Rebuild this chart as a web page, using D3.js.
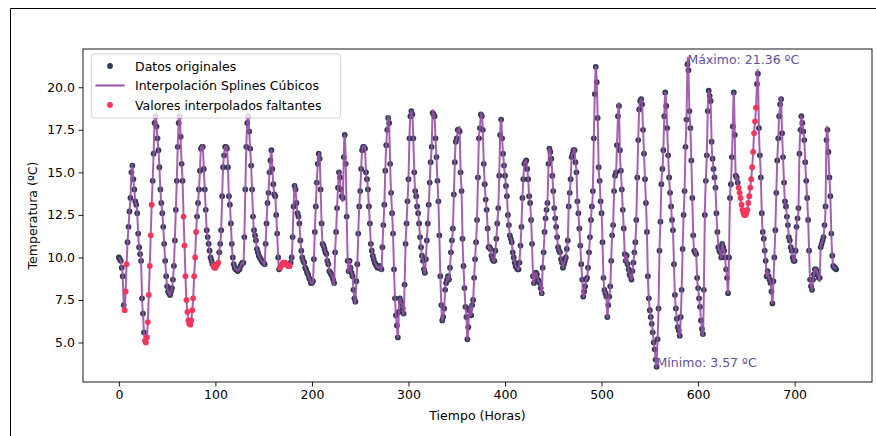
<!DOCTYPE html>
<html>
<head>
<meta charset="utf-8">
<script src="https://cdn.jsdelivr.net/npm/d3@7"></script>
<style>
  body { margin: 0; background: #fff; }
  svg { display: block; font-family: "DejaVu Sans", sans-serif; }
</style>
</head>
<body>
<svg id="chart" width="876" height="436"></svg>
<script>
// hourly temperature (ºC), one row per day
var temperaturas = [
  10.0, 9.9, 9.8, 9.4, 8.9, 7.2, 6.9, 8.0, 9.6, 10.9, 11.8, 12.7, 13.5, 15.0, 15.4, 14.6, 14.0, 13.3, 13.1, 12.6, 11.4, 10.6, 10.2, 9.8,
  7.6, 6.7, 5.6, 5.1, 5.0, 5.3, 6.2, 7.8, 9.5, 11.3, 13.1, 14.5, 16.1, 17.9, 18.3, 17.7, 17.0, 16.3, 15.3, 14.0, 13.2, 12.6, 11.8, 10.8,
  9.8, 8.9, 8.3, 8.0, 7.9, 7.8, 8.0, 8.2, 8.7, 9.5, 11.0, 12.8, 14.5, 16.5, 17.9, 18.3, 17.1, 15.5, 14.5, 12.4, 10.7, 8.9, 7.5, 6.8,
  6.3, 6.1, 6.05, 6.3, 6.9, 7.6, 8.9, 10.0, 11.5, 12.4, 13.2, 14.0, 15.1, 16.4, 16.5, 16.5, 15.2, 14.0, 12.8, 11.6, 11.2, 10.8, 10.4, 10.0,
  9.8, 9.6, 9.5, 9.4, 9.4, 9.5, 9.6, 9.7, 10.3, 10.8, 11.6, 13.6, 15.3, 16.0, 16.5, 16.5, 16.4, 15.3, 13.6, 13.1, 12.0, 10.8, 10.0, 9.6,
  9.4, 9.3, 9.3, 9.2, 9.3, 9.3, 9.5, 9.6, 9.7, 9.7, 11.2, 14.0, 16.5, 17.9, 18.3, 17.4, 16.4, 15.4, 14.0, 12.4, 11.6, 11.3, 11.0, 10.5,
  10.3, 10.1, 10.0, 9.9, 9.8, 9.7, 9.7, 9.6, 10.8, 12.0, 13.2, 13.8, 15.0, 15.7, 16.3, 15.2, 14.3, 13.7, 13.6, 12.5, 11.4, 10.0, 9.3, 9.4,
  9.5, 9.6, 9.7, 9.7, 9.7, 9.6, 9.6, 9.5, 9.5, 9.5, 9.7, 10.0, 11.2, 13.0, 14.2, 14.0, 13.2, 12.6, 12.4, 12.0, 11.0, 10.4, 10.0, 9.8,
  9.7, 9.4, 9.3, 9.1, 9.0, 8.8, 8.7, 8.5, 8.5, 8.6, 9.9, 11.5, 13.0, 14.4, 15.5, 16.1, 15.8, 14.0, 12.0, 10.8, 10.7, 10.5, 10.3, 10.2,
  9.8, 9.6, 9.2, 9.1, 9.0, 8.9, 8.7, 8.5, 10.3, 11.5, 12.9, 14.1, 15.0, 14.7, 14.0, 13.6, 13.5, 15.9, 17.2, 15.5, 12.4, 9.8, 9.2, 9.8,
  9.4, 9.1, 8.9, 8.1, 7.6, 7.4, 8.6, 9.6, 11.4, 13.0, 13.9, 15.2, 16.3, 16.5, 16.5, 16.4, 15.0, 14.6, 14.0, 13.0, 12.0, 10.8, 10.4, 10.1,
  9.9, 9.7, 9.6, 9.5, 9.4, 9.4, 9.5, 9.4, 9.3, 10.6, 11.9, 13.1, 15.1, 16.6, 17.5, 18.2, 17.9, 15.5, 13.8, 12.6, 11.4, 9.3, 7.6, 6.6,
  6.0, 5.3, 6.8, 7.6, 7.4, 7.3, 7.0, 6.7, 8.4, 10.8, 12.0, 13.3, 14.6, 17.0, 18.3, 18.6, 18.4, 17.0, 15.0, 13.9, 13.6, 13.0, 12.6, 12.0,
  11.2, 10.6, 10.1, 9.8, 9.3, 9.1, 9.9, 11.0, 12.0, 13.1, 14.4, 15.6, 16.5, 18.5, 18.4, 18.3, 17.0, 15.9, 14.5, 13.3, 11.3, 8.9, 7.2, 6.3,
  6.5, 7.0, 8.1, 8.5, 8.7, 8.9, 8.7, 9.4, 10.3, 11.0, 11.7, 13.7, 15.6, 16.8, 17.0, 17.5, 17.5, 17.4, 15.0, 13.9, 11.1, 9.5, 8.2, 7.1,
  6.5, 5.2, 5.9, 6.9, 7.0, 6.6, 7.2, 7.5, 8.8, 9.9, 10.9, 12.2, 14.7, 17.0, 17.6, 18.4, 18.3, 17.5, 15.5, 14.3, 13.4, 12.8, 11.7, 10.6,
  10.6, 10.5, 10.1, 9.9, 9.8, 9.8, 10.4, 11.1, 12.0, 12.9, 14.8, 17.2, 18.1, 17.0, 16.1, 15.4, 14.8, 14.2, 13.6, 12.5, 11.9, 11.3, 11.1, 10.9,
  10.3, 10.0, 9.7, 9.5, 9.4, 9.3, 9.3, 9.7, 10.7, 11.8, 13.5, 14.6, 15.5, 15.6, 15.7, 15.2, 14.6, 13.6, 13.2, 12.2, 10.8, 8.9, 8.5, 9.0,
  9.1, 9.0, 8.7, 8.6, 8.5, 8.2, 7.9, 9.4, 10.3, 11.5, 12.3, 12.8, 13.2, 15.5, 16.4, 16.2, 15.8, 14.8, 13.9, 12.9, 12.3, 11.8, 11.2, 10.6,
  10.4, 10.3, 9.9, 9.7, 9.4, 9.6, 9.8, 10.0, 10.5, 11.0, 13.0, 13.8, 14.6, 15.9, 16.1, 16.3, 16.3, 15.6, 15.0, 13.3, 12.6, 11.7, 10.7, 9.6,
  8.7, 7.7, 8.0, 8.3, 8.7, 8.8, 9.4, 10.3, 11.2, 12.2, 13.0, 13.9, 17.0, 19.6, 21.2, 20.3, 18.2, 15.3, 14.5, 13.3, 12.6, 10.9, 8.8, 8.1,
  7.9, 7.7, 6.5, 7.2, 7.7, 8.3, 9.8, 11.3, 11.9, 13.9, 14.8, 15.0, 16.6, 18.3, 18.9, 16.3, 15.1, 14.0, 12.8, 11.7, 10.2, 9.8, 10.1, 9.6,
  9.3, 9.0, 8.9, 8.7, 9.2, 9.7, 10.3, 10.9, 12.2, 14.7, 16.9, 18.7, 19.2, 19.3, 19.0, 17.5, 16.1, 14.6, 13.2, 11.5, 8.9, 7.6, 6.9, 6.5,
  6.1, 5.6, 5.0, 4.6, 4.0, 3.57, 5.2, 7.0, 10.4, 12.1, 14.3, 15.2, 16.3, 18.3, 19.7, 18.9, 17.6, 16.0, 14.7, 13.8, 13.0, 12.2, 11.6, 9.6,
  7.8, 7.0, 6.4, 5.9, 5.7, 5.4, 6.5, 8.1, 10.5, 12.5, 13.9, 16.5, 18.1, 21.36, 21.0, 18.6, 17.6, 15.7, 13.5, 11.3, 10.4, 10.3, 10.2, 8.8,
  8.2, 7.6, 7.1, 6.3, 5.8, 5.5, 8.1, 12.5, 14.5, 16.0, 18.6, 19.8, 19.5, 19.2, 16.8, 15.8, 15.2, 14.7, 14.1, 12.6, 11.5, 10.6, 10.4, 10.3,
  10.0, 10.8, 10.6, 10.4, 10.0, 9.3, 8.8, 7.9, 10.0, 13.5, 14.3, 15.9, 17.7, 19.7, 17.2, 14.8, 14.7, 14.4, 14.1, 13.8, 13.5, 13.1, 12.8, 12.6,
  12.5, 12.5, 12.6, 12.8, 13.2, 13.6, 14.1, 14.6, 15.3, 16.2, 17.3, 18.0, 18.8, 20.2, 20.8, 17.6, 16.0, 14.7, 12.6, 11.5, 11.1, 10.4, 9.8, 8.9,
  9.2, 8.9, 8.7, 8.5, 8.0, 7.3, 8.6, 10.0, 11.6, 13.8, 15.7, 17.0, 18.3, 19.0, 19.3, 17.3, 15.9, 14.4, 13.3, 13.0, 12.4, 11.9, 11.2, 11.0,
  10.6, 10.4, 10.0, 9.8, 9.8, 10.4, 11.8, 12.3, 12.9, 16.1, 17.5, 18.3, 17.9, 17.4, 16.9, 15.6, 14.5, 13.5, 12.2, 10.4, 8.7, 8.3, 8.1, 8.7,
  9.0, 9.3, 9.3, 9.2, 9.0, 8.8, 8.8, 10.6, 10.8, 11.0, 11.2, 11.9, 13.0, 16.9, 17.5, 16.2, 14.7, 13.6, 11.4, 10.1, 9.5, 9.4, 9.4, 9.3
];

// hours whose value was missing and filled by the spline
var faltantes = [
  6, 7, 8,
  27, 28, 29, 30, 31, 32, 33, 34,
  67, 68, 69, 70, 71, 72, 73, 74, 75, 76, 77, 78, 79, 80,
  98, 99, 100, 101, 102, 103,
  167, 168, 169, 170, 171, 172, 173, 174, 175, 176, 177,
  642, 643, 644, 645, 646, 647, 648, 649, 650, 651, 652, 653, 654, 655, 656, 657, 658, 659, 660
];

var ticksX = [0, 100, 200, 300, 400, 500, 600, 700];
var ticksY = [5.0, 7.5, 10.0, 12.5, 15.0, 17.5, 20.0];

var leyenda = ["Datos originales", "Interpolación Splines Cúbicos", "Valores interpolados faltantes"];

var colorPuntos = "#2c3e50",
    colorLinea = "#9b4fa8",
    colorFaltantes = "#f5365c",
    colorNotas = "#5e50a0";

var W = 876, H = 436,
    margin = {top: 49, right: 4, bottom: 54, left: 83},
    w = W - margin.left - margin.right,
    h = H - margin.top - margin.bottom;

var datos = temperaturas.map(function (t, i) {
    return {hora: i, temp: t, falta: faltantes.includes(i)};
});

var n = datos.length - 1;
var tMin = d3.min(temperaturas), tMax = d3.max(temperaturas);
var padX = n * 0.05, padY = (tMax - tMin) * 0.05;

var x = d3.scaleLinear().domain([-padX, n + padX]).range([0, w]);
var y = d3.scaleLinear().domain([tMin - padY, tMax + padY]).range([h, 0]);

var svg = d3.select("#chart");
svg.append("rect").attr("width", W).attr("height", H).attr("fill", "#fff");

// border of the output cell (top and left edges are visible)
svg.append("path")
    .attr("d", "M10.5,436V8.5H876")
    .attr("fill", "none").attr("stroke", "#000").attr("stroke-width", 1);

var g = svg.append("g").attr("transform", "translate(" + margin.left + "," + margin.top + ")");

g.append("clipPath").attr("id", "clip")
  .append("rect").attr("width", w).attr("height", h);

// axes
var ax = g.append("g")
    .attr("transform", "translate(0," + h + ")")
    .call(d3.axisBottom(x).tickValues(ticksX).tickFormat(d3.format("d")).tickSizeOuter(0).tickSize(4.5).tickPadding(3.5));
var ay = g.append("g")
    .call(d3.axisLeft(y).tickValues(ticksY).tickFormat(d3.format(".1f")).tickSizeOuter(0).tickSize(4.5).tickPadding(3.5));

[ax, ay].forEach(function (a) {
    a.select(".domain").remove();
    a.selectAll("line").attr("stroke", "#000").attr("stroke-width", 0.9);
    a.selectAll("text").attr("fill", "#000").style("font-size", "12.5px").style("font-family", "DejaVu Sans");
});

// frame
g.append("rect")
    .attr("width", w).attr("height", h)
    .attr("fill", "none").attr("stroke", "#000").attr("stroke-width", 0.9);

var plot = g.append("g").attr("clip-path", "url(#clip)");

// original points
plot.append("g").selectAll("circle")
    .data(datos.filter(function (d) { return !d.falta; }))
    .join("circle")
    .attr("cx", function (d) { return x(d.hora); })
    .attr("cy", function (d) { return y(d.temp); })
    .attr("r", 2.9)
    .attr("fill", colorPuntos);

// spline
var line = d3.line()
    .x(function (d) { return x(d.hora); })
    .y(function (d) { return y(d.temp); })
    .curve(d3.curveNatural);

plot.append("path")
    .datum(datos)
    .attr("d", line)
    .attr("fill", "none")
    .attr("stroke", colorLinea)
    .attr("stroke-width", 2)
    .attr("stroke-opacity", 0.9);

// interpolated missing values
plot.append("g").selectAll("circle")
    .data(datos.filter(function (d) { return d.falta; }))
    .join("circle")
    .attr("cx", function (d) { return x(d.hora); })
    .attr("cy", function (d) { return y(d.temp); })
    .attr("r", 2.9)
    .attr("fill", colorFaltantes);

// max / min notes
var iMax = d3.maxIndex(temperaturas), iMin = d3.minIndex(temperaturas);
g.append("text")
    .attr("x", x(iMax)).attr("y", y(tMax))
    .attr("fill", colorNotas).style("font-size", "12.5px")
    .text("Máximo: " + tMax.toFixed(2) + " ºC");
g.append("text")
    .attr("x", x(iMin)).attr("y", y(tMin))
    .attr("fill", colorNotas).style("font-size", "12.5px")
    .text("Mínimo: " + tMin.toFixed(2) + " ºC");

// axis labels
g.append("text")
    .attr("x", w / 2).attr("y", h + 38)
    .attr("text-anchor", "middle").style("font-size", "12.5px")
    .text("Tiempo (Horas)");
g.append("text")
    .attr("transform", "translate(" + (-46) + "," + (h / 2) + ") rotate(-90)")
    .attr("text-anchor", "middle").style("font-size", "12.5px")
    .text("Temperatura (ºC)");

// legend
var lg = g.append("g").attr("transform", "translate(8.5,5)");
lg.append("rect")
    .attr("width", 249).attr("height", 64).attr("rx", 3)
    .attr("fill", "#fff").attr("fill-opacity", 0.8)
    .attr("stroke", "#d0d0d0").attr("stroke-width", 0.9);

leyenda.forEach(function (txt, i) {
    var cy = 12 + i * 19.5;
    if (i === 1) {
        lg.append("line")
            .attr("x1", 4).attr("x2", 33).attr("y1", cy).attr("y2", cy)
            .attr("stroke", colorLinea).attr("stroke-width", 2);
    } else {
        lg.append("circle")
            .attr("cx", 18.5).attr("cy", cy).attr("r", 2.9)
            .attr("fill", i === 0 ? colorPuntos : colorFaltantes);
    }
    lg.append("text")
        .attr("x", 43.5).attr("y", cy + 4.5)
        .style("font-size", "12.5px")
        .text(txt);
});
</script>
</body>
</html>
